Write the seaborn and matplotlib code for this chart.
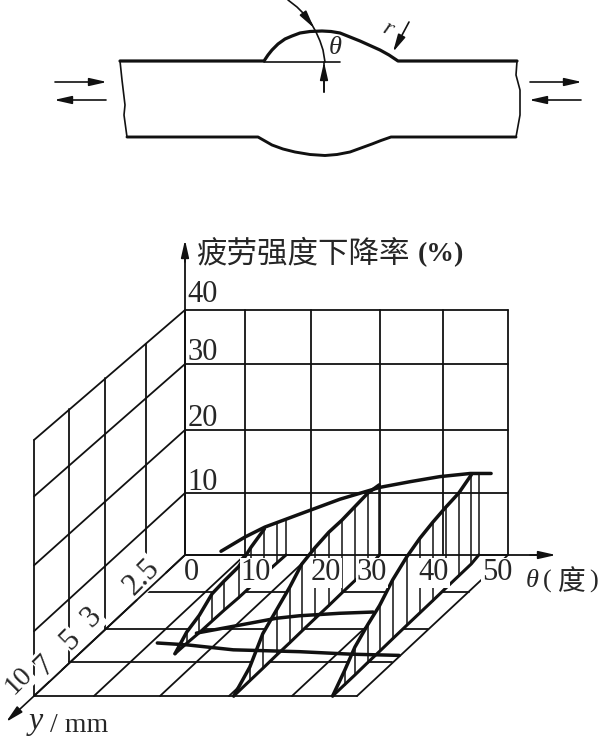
import numpy as np
import matplotlib
matplotlib.use('Agg')
import matplotlib.pyplot as plt
import seaborn as sns

# axis values
theta_ticks = [0, 10, 20, 30, 40, 50]
y_ticks = [2.5, 3, 5, 7, 10]
s_ticks = [0, 10, 20, 30, 40]

# drop in strength vs y at three weld angles
rib_a_theta = [15.6, 15.65, 15.8, 15.8, 15.8, 15.9, 15.9, 16.0, 16.1, 16.2]
rib_a_y = [6.5, 5.87, 5.22, 4.57, 3.99, 3.31, 2.92, 2.76, 2.61, 2.5]
rib_a_s = [0, 1.8, 2.8, 4.4, 4.7, 5.0, 6.3, 7.3, 6.5, 5.6]

rib_b_theta = [30.75, 30.8, 30.85, 30.8, 30.75, 30.65, 30.55, 30.45, 30.3, 30.3, 30.3, 29.9]
rib_b_y = [10, 8.65, 7.56, 6.58, 5.82, 5.13, 4.45, 3.73, 3.05, 2.85, 2.68, 2.5]
rib_b_s = [0, 2.2, 5.6, 7.3, 9.0, 10.8, 11.4, 11.8, 11.7, 11.9, 12.1, 11.3]

rib_c_theta = [46.25, 46.3, 46.35, 46.35, 46.3, 46.2, 46.1, 46.0, 45.9, 45.8, 45.8, 45.8, 45.5]
rib_c_y = [10, 8.99, 8.15, 7.05, 6.35, 5.59, 4.81, 4.13, 3.47, 2.95, 2.78, 2.62, 2.5]
rib_c_s = [0, 2.3, 4.5, 6.1, 7.4, 9.5, 11.0, 12.0, 12.6, 13.0, 13.3, 14.3, 13.2]

# drop in strength vs theta at fixed y
top_theta = [6.0, 10, 13, 18.3, 24.2, 30, 34.8, 39.5, 44.2, 47.4]
top_s = [0.6, 2.9, 4.5, 6.6, 9.0, 10.9, 11.8, 12.6, 13.1, 13.1]
top_y = 2.5

mid_theta = [15.85, 22.35, 27.65, 31.05, 37.45, 42.65]
mid_s = [0.4, 1.7, 2.8, 3.2, 3.6, 3.8]
mid_y = 5.4

low_theta = [13.2, 17.7, 24.5, 34.5, 42.5, 50]
low_s = [2.0, 1.7, 0.9, 0.6, 0.2, 0]
low_y = 6.6

# weld sketch outline
weld_top_x = [120, 264, 268, 272, 278, 285, 292, 300, 310, 322, 331, 340, 350, 360, 370, 380, 389, 398, 517]
weld_top_y = [61, 61, 55, 50, 44, 39, 36, 33, 31.5, 31, 31.5, 33, 37, 41, 45.5, 50, 55, 61, 61]
weld_bot_x = [127, 258, 265, 272, 283, 295, 310, 325, 337, 350, 361, 372, 381, 391, 516]
weld_bot_y = [137, 137, 141, 145, 149, 152, 154.5, 155.5, 154.5, 152, 148, 144, 140.5, 137, 137]
edge_left_x = [120, 122, 125, 124, 127]
edge_left_y = [61, 80, 105, 115, 137]
edge_right_x = [517, 516, 520, 520, 516]
edge_right_y = [61, 75, 90, 115, 137]
arc_x = [288, 297, 305, 311, 316, 320, 323, 325]
arc_y = [0, 7, 15, 23, 32, 41, 50, 62]

# screen scales of the oblique drawing
theta_px = [185, 245, 311, 380, 443, 508]
s_px = [0, 62, 125, 191, 245]
y_drop = [0, 37, 74, 107, 141]
y_shift = [0, 39, 80, 116, 151]
origin_y = 555


def project(theta, y, s, stretch=0.0):
    drop = np.interp(y, y_ticks, y_drop)
    shift = np.interp(y, y_ticks, y_shift)
    sx = np.interp(theta, theta_ticks, theta_px) - shift
    h = np.interp(s, s_ticks, s_px) * (1 + stretch * drop / 141)
    return sx, origin_y + drop - h


def line(ax, xs, ys, lw=1.3, z=2):
    sns.lineplot(x=np.atleast_1d(xs), y=np.atleast_1d(ys), sort=False, estimator=None,
                 errorbar=None, color='#111111', linewidth=lw, ax=ax, zorder=z)


def arrow(ax, start, end, z=6):
    ax.annotate('', xy=end, xytext=start, zorder=z,
                arrowprops=dict(arrowstyle='-|>,head_length=0.75,head_width=0.17', color='#111111',
                                lw=1.2, shrinkA=0, shrinkB=0, mutation_scale=14))


sns.set_theme(style='white')
plt.rcParams['font.family'] = ['Liberation Serif', 'Noto Sans CJK SC', 'DejaVu Sans']

fig = plt.figure(figsize=(6, 7.36), dpi=100)
ax = fig.add_axes([0, 0, 1, 1])

# floor goes under the white ribbons
for yv in y_ticks:
    x0, y0 = project(0, yv, 0)
    x1, y1 = project(50, yv, 0)
    line(ax, [x0, x1], [y0, y1], z=1)
for th in theta_ticks:
    x0, y0 = project(th, y_ticks[0], 0)
    x1, y1 = project(th, y_ticks[-1], 0)
    line(ax, [x0, x1], [y0, y1], z=1 if th else 8)

# back wall
for th in theta_ticks:
    x0, y0 = project(th, y_ticks[0], 0)
    x1, y1 = project(th, y_ticks[0], s_ticks[-1])
    line(ax, [x0, x1], [y0, y1])
for s in s_ticks:
    x0, y0 = project(theta_ticks[0], y_ticks[0], s)
    x1, y1 = project(theta_ticks[-1], y_ticks[0], s)
    line(ax, [x0, x1], [y0, y1])

# side wall
for s in s_ticks:
    x0, y0 = project(0, y_ticks[0], s)
    x1, y1 = project(0, y_ticks[-1], s, stretch=0.045)
    line(ax, [x0, x1], [y0, y1])
for yv in y_ticks:
    x0, y0 = project(0, yv, 0)
    x1, y1 = project(0, yv, s_ticks[-1], stretch=0.045)
    line(ax, [x0, x1], [y0, y1])

# ribbons with their hatching
ribbons = [(rib_a_theta, rib_a_y, rib_a_s, 8),
           (rib_b_theta, rib_b_y, rib_b_s, 12),
           (rib_c_theta, rib_c_y, rib_c_s, 12)]
for rt, ry, rs, n_top in ribbons:
    tx, ty = project(rt, ry, rs)
    bx, by = project(rt, ry, 0)
    ax.fill(np.r_[tx, bx[::-1]], np.r_[ty, by[::-1]], color='white', lw=0, zorder=1.5)
    for i in range(len(rt)):
        line(ax, [bx[i], tx[i]], [by[i], ty[i]], lw=1.1, z=3)
    line(ax, tx[:n_top], ty[:n_top], lw=2.5, z=4)
    line(ax, bx, by, lw=2.2, z=4)

# cross curves
for ct, cs, cy in [(top_theta, top_s, top_y), (mid_theta, mid_s, mid_y), (low_theta, low_s, low_y)]:
    cx, cyy = project(ct, [cy] * len(ct), cs)
    line(ax, cx, cyy, lw=2.5, z=4)

# tick labels, white box breaks the lines behind them
box = dict(facecolor='white', edgecolor='none', pad=0.5)
for lab, px, py in zip(s_ticks[1:], [203, 203, 203, 203], [483, 418, 352, 295]):
    ax.text(px, py, str(lab), fontsize=22, ha='center', va='center', zorder=7)
for lab, px in zip(theta_ticks, [191, 256, 326, 372, 434, 497]):
    ax.text(px, 573, str(lab), fontsize=22, ha='center', va='center', zorder=7, bbox=box)
for lab, px, py, fs in zip(y_ticks, [142, 92, 70, 45, 19], [577, 617, 640, 665, 681], [22, 22, 22, 22, 20]):
    ax.text(px, py, str(lab), fontsize=fs, ha='center', va='center', rotation=45,
            rotation_mode='anchor', zorder=7, bbox=box)

# axis arrows
line(ax, [185, 185], [309, 245])
arrow(ax, (185, 262), (185, 240))
line(ax, [508, 540], [555, 555])
arrow(ax, (530, 555), (556, 555))
arrow(ax, (34, 696), (6, 722))

ax.text(196, 255, '疲劳强度下降率', fontsize=22, ha='left', va='center', zorder=7)
ax.text(418, 255, '(%)', fontsize=20, ha='left', va='center', zorder=7, weight='bold')
ax.text(532, 581, 'θ', fontsize=19, style='italic', ha='center', va='center')
ax.text(547, 581, '(', fontsize=19, ha='center', va='center')
ax.text(572, 583, '度', fontsize=20, ha='center', va='center')
ax.text(594, 581, ')', fontsize=19, ha='center', va='center')
ax.text(36, 722, 'y', fontsize=23, style='italic', ha='center', va='center')
ax.text(50, 725, '/ mm', fontsize=20, ha='left', va='center')

# weld sketch
line(ax, weld_top_x, weld_top_y, lw=2.3)
line(ax, weld_bot_x, weld_bot_y, lw=2.1)
line(ax, edge_left_x, edge_left_y, lw=1.2)
line(ax, edge_right_x, edge_right_y, lw=1.2)
line(ax, [264, 340], [61.5, 61.5], lw=1.2)
line(ax, arc_x, arc_y, lw=1.2)
arrow(ax, (303, 13), (314, 28))
line(ax, [324, 324], [62, 92], lw=1.2)
arrow(ax, (324, 92), (324, 62))
arrow(ax, (409, 22), (393, 52))
arrow(ax, (55, 82), (107, 82))
arrow(ax, (106, 100), (54, 100))
arrow(ax, (530, 82), (582, 82))
arrow(ax, (581, 100), (529, 100))
ax.text(335, 48, 'θ', fontsize=19, style='italic', ha='center', va='center')
ax.text(388, 29, 'r', fontsize=17, style='italic', ha='center', va='center', rotation=-25)

ax.set_xlim(0, 600)
ax.set_ylim(736, 0)
ax.axis('off')

fig.savefig('out.png', dpi=100, facecolor='white')
